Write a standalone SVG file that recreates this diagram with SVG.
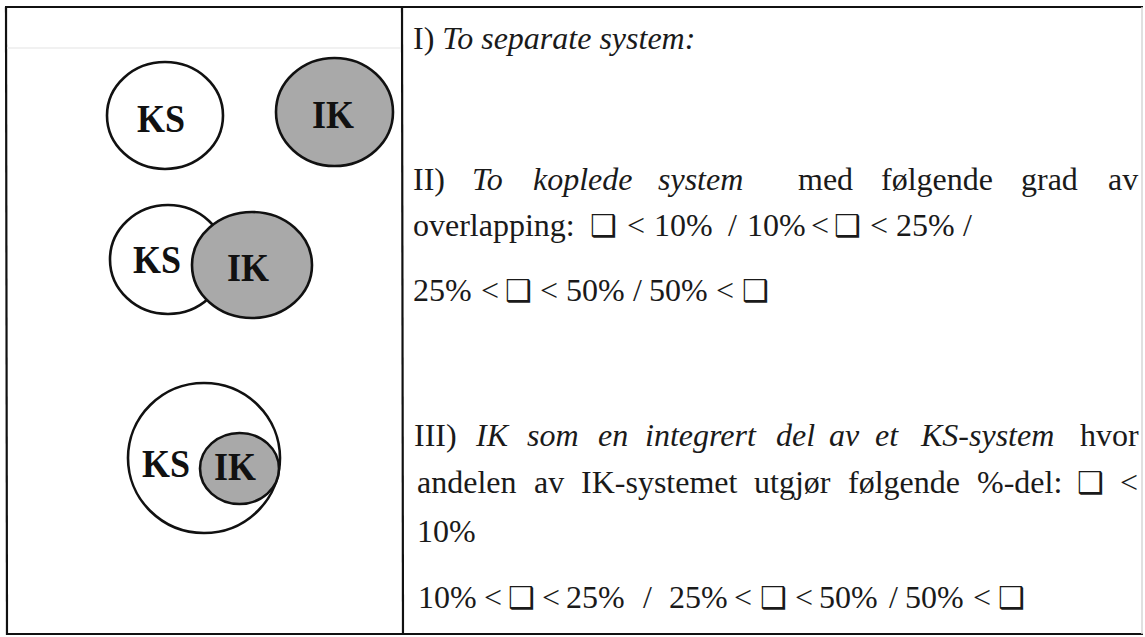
<svg xmlns="http://www.w3.org/2000/svg" width="1145" height="637" viewBox="0 0 1145 637">
  <style>
    .rule { stroke: #111; stroke-width: 2.2; fill: none; }
    .faint { stroke: #ececec; stroke-width: 1.5; fill: none; }
    .ks { fill: #ffffff; stroke: #111; stroke-width: 2.6; }
    .ik { fill: #a9a9a9; stroke: #111; stroke-width: 2.6; }
    .lbl { font-family: "Liberation Serif", "Times New Roman", serif; font-weight: bold; font-size: 36px; fill: #111; }
    .txt { font-family: "Liberation Serif", "Times New Roman", serif; font-size: 32px; fill: #1a1a1a; }
    .it { font-style: italic; }
    .box { font-family: "DejaVu Sans", sans-serif; font-size: 30px; font-weight: bold; }
  </style>

  <rect x="0" y="0" width="1145" height="637" fill="#ffffff"/>

  <!-- table frame -->
  <g id="table">
    <line class="rule" x1="5" y1="7" x2="1143" y2="7"/>
    <line class="rule" x1="6" y1="7" x2="7" y2="635"/>
    <line class="rule" x1="402" y1="7" x2="403" y2="635"/>
    <line class="rule" x1="6" y1="634" x2="1143" y2="634"/>
    <line x1="1142" y1="7" x2="1142" y2="634" stroke="#d6d6d6" stroke-width="1.5"/>
    <line class="faint" x1="7" y1="48" x2="401" y2="48"/>
  </g>

  <!-- I) two separate systems -->
  <g id="separate-ks">
    <ellipse class="ks" cx="165" cy="115.5" rx="58" ry="53.5"/>
    <text class="lbl" transform="translate(137 132) scale(1 1.1)">KS</text>
  </g>
  <g id="separate-ik">
    <ellipse class="ik" cx="334.5" cy="112" rx="58.5" ry="54"/>
    <text class="lbl" transform="translate(312 128) scale(1 1.1)">IK</text>
  </g>

  <!-- II) two coupled systems -->
  <g id="coupled-ks">
    <ellipse class="ks" cx="168" cy="259.5" rx="58" ry="54.5"/>
    <text class="lbl" transform="translate(133 273) scale(1 1.1)">KS</text>
  </g>
  <g id="coupled-ik">
    <ellipse class="ik" cx="252" cy="265" rx="60" ry="53"/>
    <text class="lbl" transform="translate(227 281) scale(1 1.1)">IK</text>
  </g>

  <!-- III) IK integrated in KS -->
  <g id="integrated-ks">
    <ellipse class="ks" cx="204" cy="458" rx="76" ry="75"/>
    <text class="lbl" transform="translate(142 477) scale(1 1.1)">KS</text>
  </g>
  <g id="integrated-ik">
    <ellipse class="ik" cx="239.5" cy="468.5" rx="39.5" ry="35.5"/>
    <text class="lbl" transform="translate(214 480) scale(1 1.1)">IK</text>
  </g>

  <!-- right column text -->
  <g id="text-I">
    <text class="txt" x="413" y="49">I) <tspan class="it">To separate system:</tspan></text>
  </g>

  <g id="text-II">
    <text class="txt" y="190">
      <tspan x="413">II)</tspan>
      <tspan x="472" class="it">To</tspan>
      <tspan x="533" class="it">koplede</tspan>
      <tspan x="658" class="it">system</tspan>
      <tspan x="798">med</tspan>
      <tspan x="881">følgende</tspan>
      <tspan x="1021">grad</tspan>
      <tspan x="1108">av</tspan>
    </text>
    <text class="txt" y="236">
      <tspan x="413">overlapping:</tspan>
      <tspan x="590" class="box">❑</tspan>
      <tspan x="627">&lt;</tspan>
      <tspan x="654">10%</tspan>
      <tspan x="728">/</tspan>
      <tspan x="747">10%</tspan>
      <tspan x="811">&lt;</tspan>
      <tspan x="834" class="box">❑</tspan>
      <tspan x="870">&lt;</tspan>
      <tspan x="896">25%</tspan>
      <tspan x="963">/</tspan>
    </text>
    <text class="txt" y="301">
      <tspan x="413">25%</tspan>
      <tspan x="481">&lt;</tspan>
      <tspan x="505" class="box">❑</tspan>
      <tspan x="540">&lt;</tspan>
      <tspan x="566">50%</tspan>
      <tspan x="633">/</tspan>
      <tspan x="649">50%</tspan>
      <tspan x="716">&lt;</tspan>
      <tspan x="742" class="box">❑</tspan>
    </text>
  </g>

  <g id="text-III">
    <text class="txt" y="446">
      <tspan x="414">III)</tspan>
      <tspan x="476" class="it">IK</tspan>
      <tspan x="527" class="it">som</tspan>
      <tspan x="598" class="it">en</tspan>
      <tspan x="645" class="it">integrert</tspan>
      <tspan x="776" class="it">del</tspan>
      <tspan x="829" class="it">av</tspan>
      <tspan x="875" class="it">et</tspan>
      <tspan x="921" class="it">KS-system</tspan>
      <tspan x="1080">hvor</tspan>
    </text>
    <text class="txt" y="493">
      <tspan x="417">andelen</tspan>
      <tspan x="534">av</tspan>
      <tspan x="581">IK-systemet</tspan>
      <tspan x="754">utgjør</tspan>
      <tspan x="848">følgende</tspan>
      <tspan x="977">%-del:</tspan>
      <tspan x="1077" class="box">❑</tspan>
      <tspan x="1120">&lt;</tspan>
    </text>
    <text class="txt" x="417" y="542">10%</text>
    <text class="txt" y="608">
      <tspan x="418">10%</tspan>
      <tspan x="484">&lt;</tspan>
      <tspan x="508" class="box">❑</tspan>
      <tspan x="542">&lt;</tspan>
      <tspan x="566">25%</tspan>
      <tspan x="643">/</tspan>
      <tspan x="669">25%</tspan>
      <tspan x="734">&lt;</tspan>
      <tspan x="760" class="box">❑</tspan>
      <tspan x="795">&lt;</tspan>
      <tspan x="819">50%</tspan>
      <tspan x="889">/</tspan>
      <tspan x="905">50%</tspan>
      <tspan x="973">&lt;</tspan>
      <tspan x="998" class="box">❑</tspan>
    </text>
  </g>
</svg>
